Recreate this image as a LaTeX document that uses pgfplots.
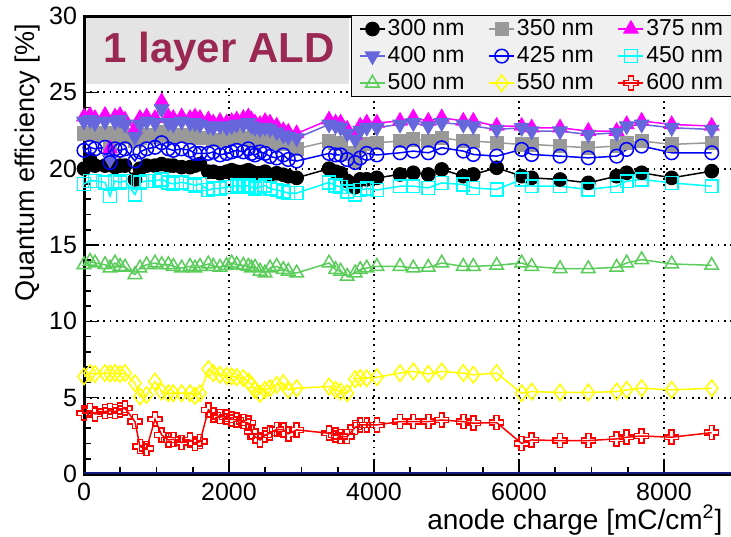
\documentclass[border=0pt]{standalone}
\usepackage{fontspec}
\setmainfont{Liberation Sans}
\usepackage{pgfplots}
\usepackage{pgfplotstable}
\pgfplotsset{compat=1.18}

\definecolor{c300}{RGB}{0,0,0}
\definecolor{c350}{RGB}{153,153,153}
\definecolor{c375}{RGB}{255,0,255}
\definecolor{c400}{RGB}{102,102,221}
\definecolor{c425}{RGB}{0,0,255}
\definecolor{c450}{RGB}{0,255,255}
\definecolor{c500}{RGB}{90,204,90}
\definecolor{c550}{RGB}{255,255,0}
\definecolor{c600}{RGB}{255,0,0}
\definecolor{tbox}{RGB}{228,228,228}
\definecolor{legbg}{RGB}{240,240,240}
\definecolor{ttext}{RGB}{153,41,82}
\definecolor{cnavy}{RGB}{20,30,130}

% open cross marker (ROOT style 28)
\pgfdeclareplotmark{ocross}{%
  \pgfpathmoveto{\pgfqpoint{-0.35\pgfplotmarksize}{\pgfplotmarksize}}%
  \pgfpathlineto{\pgfqpoint{0.35\pgfplotmarksize}{\pgfplotmarksize}}%
  \pgfpathlineto{\pgfqpoint{0.35\pgfplotmarksize}{0.35\pgfplotmarksize}}%
  \pgfpathlineto{\pgfqpoint{\pgfplotmarksize}{0.35\pgfplotmarksize}}%
  \pgfpathlineto{\pgfqpoint{\pgfplotmarksize}{-0.35\pgfplotmarksize}}%
  \pgfpathlineto{\pgfqpoint{0.35\pgfplotmarksize}{-0.35\pgfplotmarksize}}%
  \pgfpathlineto{\pgfqpoint{0.35\pgfplotmarksize}{-\pgfplotmarksize}}%
  \pgfpathlineto{\pgfqpoint{-0.35\pgfplotmarksize}{-\pgfplotmarksize}}%
  \pgfpathlineto{\pgfqpoint{-0.35\pgfplotmarksize}{-0.35\pgfplotmarksize}}%
  \pgfpathlineto{\pgfqpoint{-\pgfplotmarksize}{-0.35\pgfplotmarksize}}%
  \pgfpathlineto{\pgfqpoint{-\pgfplotmarksize}{0.35\pgfplotmarksize}}%
  \pgfpathlineto{\pgfqpoint{-0.35\pgfplotmarksize}{0.35\pgfplotmarksize}}%
  \pgfpathclose
  \pgfusepathqstroke
}

% quantum efficiency [%] vs anode charge [mC/cm2]
\pgfplotstableread{
x    s300  s350  s375  s400  s425  s450  s500  s550  s600
0    20.0  22.3  23.4  23.1  21.2  19.0  13.71 6.39  3.98
83   20.6  22.3  23.5  23.2  21.4  19.2  13.93 6.61  4.15
152  20.2  22.2  23.3  23.0  21.3  19.2  13.82 6.55  3.94
290  20.2  22.3  23.5  23.1  21.4  19.1  13.71 6.61  4.09
359  20.3  21.6  21.3  20.6  20.4  18.2  13.49 6.58  4.15
428  20.1  22.3  23.4  23.1  21.3  19.2  13.82 6.61  4.09
497  20.2  22.2  23.5  23.2  21.2  19.1  13.60 6.55  4.20
566  20.2  22.1  23.2  22.9  21.3  19.2  13.55 6.61  4.31
703  19.3  21.8  22.6  22.1  20.5  18.3  13.06 5.95  3.43
772  20.0  22.0  23.3  22.9  21.1  19.1  13.49 5.07  1.79
864  20.2  22.2  23.4  23.1  21.3  19.2  13.71 5.18  1.68
979  20.2  22.1  23.3  23.0  21.4  19.2  13.82 6.06  3.59
1071 20.3  22.4  24.4  23.9  21.7  19.3  13.71 5.40  2.56
1163 20.2  22.2  23.4  23.0  21.3  19.1  13.71 5.29  2.23
1232 20.2  22.1  23.3  22.9  21.2  19.0  13.60 5.29  2.27
1347 20.1  22.2  23.4  23.1  21.3  19.1  13.49 5.29  2.06
1462 20.1  22.1  23.3  23.0  21.2  19.0  13.60 5.29  2.23
1531 20.2  22.2  23.4  23.0  21.0  18.9  13.49 5.12  2.01
1600 20.3  22.0  23.3  22.9  21.0  19.0  13.60 5.29  2.12
1715 19.8  22.0  23.2  22.8  21.0  18.6  13.76 6.87  4.20
1784 19.8  21.9  23.0  22.7  21.1  18.7  13.60 6.61  3.87
1876 19.7  21.9  23.1  22.8  20.9  18.7  13.54 6.50  3.76
1968 19.8  22.0  23.0  22.7  21.0  18.8  13.66 6.43  3.72
2037 19.9  22.0  23.1  22.8  21.1  18.8  13.82 6.39  3.59
2106 19.8  22.1  23.2  22.9  21.2  18.9  13.71 6.34  3.54
2198 19.8  22.0  23.3  22.9  21.1  18.8  13.66 6.28  3.43
2267 19.9  22.0  23.4  23.0  21.3  18.9  13.60 6.06  3.33
2310 19.8  21.9  23.2  22.8  21.0  18.8  13.49 5.84  2.78
2359 19.7  21.8  23.0  22.7  20.9  18.7  13.54 5.51  2.45
2428 19.7  21.8  22.9  22.6  21.1  18.8  13.28 5.25  2.23
2497 19.8  21.9  23.1  22.7  21.0  18.9  13.17 5.51  2.56
2566 19.6  21.8  23.0  22.6  20.8  18.7  13.49 5.62  2.67
2658 19.7  21.7  22.8  22.4  20.7  18.6  13.60 5.84  2.93
2749 19.6  21.6  22.5  22.2  20.9  18.5  13.39 5.95  2.89
2818 19.5  21.6  22.4  22.1  20.6  18.4  13.28 5.51  2.63
2933 19.4  21.3  22.3  22.0  20.5  18.4  13.17 5.62  2.89
3380 20.0  21.8  23.2  22.9  21.0  19.1  13.82 5.73  2.67
3470 19.8  21.7  23.0  22.8  20.9  18.9  13.39 5.51  2.56
3540 19.7  21.6  23.0  22.7  20.9  18.8  13.28 5.40  2.45
3630 19.2  21.0  22.6  22.3  20.6  18.5  12.95 5.29  2.45
3740 18.8  20.5  22.2  21.9  20.4  18.3  13.17 6.21  3.06
3810 19.3  21.4  22.8  22.5  20.7  18.6  13.39 6.28  3.22
3900 19.3  21.6  23.0  22.7  21.0  18.7  13.49 6.28  3.22
4040 19.4  21.7  23.0  22.7  20.9  18.6  13.60 6.34  3.22
4359 19.62 21.81 23.12 22.90 21.04 18.85 13.60 6.61  3.43
4542 19.73 21.92 23.34 23.00 21.15 18.85 13.49 6.72  3.43
4749 19.62 21.81 23.12 22.79 21.04 18.74 13.54 6.56  3.43
4934 19.95 22.03 23.34 23.00 21.37 19.07 13.82 6.72  3.54
5232 19.51 21.81 23.12 22.90 21.15 18.96 13.60 6.61  3.43
5370 19.62 21.81 23.12 22.79 20.93 18.74 13.60 6.50  3.33
5692 20.06 21.70 22.79 22.57 20.82 18.64 13.67 6.61  3.37
6037 19.51 21.59 22.79 22.68 21.26 19.29 13.82 5.29  2.00
6175 19.40 21.59 22.68 22.46 20.93 18.85 13.60 5.40  2.23
6566 19.29 21.48 22.68 22.46 20.82 18.85 13.45 5.34  2.19
6956 19.07 21.37 22.46 22.24 20.71 18.64 13.45 5.34  2.19
7347 19.51 21.48 22.46 22.35 20.82 18.85 13.54 5.40  2.30
7485 19.73 21.70 22.90 22.79 21.26 19.18 13.82 5.51  2.41
7692 19.73 21.81 23.12 22.90 21.48 19.29 14.04 5.62  2.49
8106 19.40 21.59 22.90 22.68 21.04 19.07 13.76 5.51  2.41
8658 19.84 21.70 22.79 22.57 21.04 18.85 13.67 5.62  2.71
}\qe

\begin{document}
\begin{tikzpicture}
\useasboundingbox (-42pt,-31pt) rectangle (323.5pt,237pt);
\clip (-42pt,-31pt) rectangle (323.5pt,237pt);
\begin{axis}[
    name=ax, at={(0,0)}, anchor=south west,
    scale only axis, width=326.25pt, height=229pt,
    xmin=0, xmax=9000, ymin=0, ymax=30,
    xtick={0,2000,4000,6000,8000}, minor x tick num=3,
    ytick={0,5,...,30}, minor y tick num=4,
    xtick pos=bottom, ytick pos=left, tick align=inside,
    major tick length=7pt, minor tick length=3.5pt,
    tick style={black, line width=0.8pt},
    axis line style={line width=1.5pt},
    grid=major,
    grid style={black, line width=0.9pt, dash pattern=on 0.9pt off 2.3pt},
    ticklabel style={font=\fontsize{12.5}{14}\selectfont},
    xticklabel style={yshift=-1pt},
    /pgf/number format/assume math mode=true,
    /pgf/number format/1000 sep={},
    scaled x ticks=false,
    every axis plot/.append style={line width=0.75pt},
    mark options={solid},
    legend columns=3,
    legend cell align=left,
    legend image code/.code={\draw[mark repeat=2,mark phase=2] plot coordinates {(0cm,0cm) (0.22cm,0cm) (0.44cm,0cm)};},
    legend style={at={(axis cs:3680,30.06)}, anchor=north west,
        draw=black, fill=legbg,
        font=\fontsize{11.5}{13}\selectfont,
        inner xsep=4pt, inner ysep=1pt, row sep=2pt,
        nodes={inner sep=1pt, font=\fontsize{11.5}{13}\selectfont},
        /tikz/every even column/.append style={column sep=11pt}},
]
\fill[tbox] ([xshift=0.75pt]axis cs:0,25.52) rectangle ([yshift=-0.75pt]axis cs:3655,30);
\node[anchor=base, text=ttext, font=\bfseries\fontsize{21}{24}\selectfont] at (axis cs:1862,26.97) {1 layer ALD};

\addplot[color=c300, mark=*, mark size=3.3pt] table[x=x, y=s300] {\qe};
\addlegendentry{300 nm}
\addplot[color=c350, mark=square*, mark size=3.2pt] table[x=x, y=s350] {\qe};
\addlegendentry{350 nm}
\addplot[color=c375, mark=triangle*, mark size=3.9pt] table[x=x, y=s375] {\qe};
\addlegendentry{375 nm}
\addplot[color=c400, mark=triangle*, mark size=3.9pt, mark options={rotate=180}] table[x=x, y=s400] {\qe};
\addlegendentry{400 nm}
\addplot[color=c425, mark=o, mark size=3.4pt] table[x=x, y=s425] {\qe};
\addlegendentry{425 nm}
\addplot[color=c450, mark=square, mark size=3.2pt] table[x=x, y=s450] {\qe};
\addlegendentry{450 nm}
\addplot[color=c500, mark=triangle, mark size=3.9pt] table[x=x, y=s500] {\qe};
\addlegendentry{500 nm}
\addplot[color=c550, mark=diamond, mark size=4.1pt] table[x=x, y=s550] {\qe};
\addlegendentry{550 nm}
\addplot[color=c600, mark=ocross, mark size=3.5pt] table[x=x, y=s600] {\qe};
\addlegendentry{600 nm}

\draw[cnavy, line width=1pt] ([yshift=0.5pt]axis cs:0,0) -- ([yshift=0.5pt]axis cs:9000,0);
\end{axis}
\node[rotate=90, anchor=base east, font=\fontsize{13.5}{16}\selectfont] at ([xshift=-25pt,yshift=-0.5pt]ax.north west) {Quantum efficiency [\%]};
\node[anchor=base east, font=\fontsize{14}{16}\selectfont] at ([xshift=-3.5pt,yshift=-27.5pt]ax.south east) {anode charge [mC/cm\textsuperscript{2}]};
\end{tikzpicture}
\end{document}
